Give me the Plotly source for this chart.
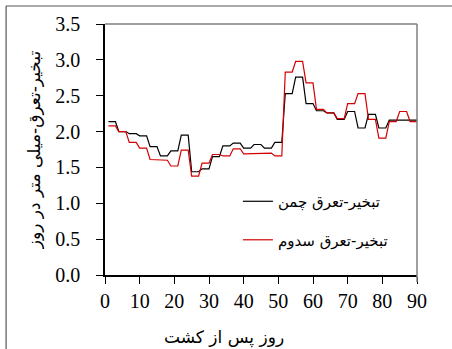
import plotly.graph_objects as go

days = list(range(1, 91))

# Evapotranspiration - grass (black)
et_grass = [
    2.14, 2.14, 2.14, 2.00, 2.00, 2.00, 1.97, 1.97, 1.97, 1.94, 1.94, 1.94,
    1.79, 1.79, 1.79, 1.66, 1.66, 1.66, 1.73, 1.73, 1.73, 1.95, 1.95, 1.95,
    1.44, 1.44, 1.44, 1.48, 1.48, 1.48, 1.65, 1.65, 1.65, 1.80, 1.80, 1.80,
    1.84, 1.84, 1.84, 1.77, 1.77, 1.77, 1.82, 1.82, 1.82, 1.77, 1.77, 1.77,
    1.85, 1.85, 1.85, 2.53, 2.53, 2.53, 2.76, 2.76, 2.76, 2.39, 2.39, 2.39,
    2.29, 2.29, 2.29, 2.26, 2.26, 2.26, 2.17, 2.17, 2.17, 2.28, 2.28, 2.28,
    2.05, 2.05, 2.05, 2.24, 2.24, 2.24, 2.05, 2.05, 2.05, 2.16, 2.16, 2.16,
    2.16, 2.16, 2.16, 2.16, 2.16, 2.16,
]

# Evapotranspiration - sedum (red)
et_sedum = [
    2.08, 2.08, 2.08, 2.00, 2.00, 2.00, 1.85, 1.85, 1.85, 1.77, 1.77, 1.77,
    1.61, 1.61, 1.61, 1.60, 1.60, 1.60, 1.52, 1.52, 1.52, 1.74, 1.74, 1.74,
    1.38, 1.38, 1.38, 1.56, 1.56, 1.56, 1.68, 1.68, 1.68, 1.66, 1.66, 1.66,
    1.76, 1.76, 1.76, 1.69, 1.69, 1.69, 1.70, 1.70, 1.70, 1.70, 1.70, 1.70,
    1.66, 1.66, 1.66, 2.83, 2.83, 2.83, 2.98, 2.98, 2.98, 2.68, 2.68, 2.68,
    2.31, 2.31, 2.31, 2.26, 2.26, 2.26, 2.18, 2.18, 2.18, 2.39, 2.39, 2.39,
    2.53, 2.53, 2.53, 2.17, 2.17, 2.17, 1.91, 1.91, 1.91, 2.14, 2.14, 2.14,
    2.28, 2.28, 2.28, 2.14, 2.14, 2.14,
]

x_ticks = [0, 10, 20, 30, 40, 50, 60, 70, 80, 90]
y_ticks = [0.0, 0.5, 1.0, 1.5, 2.0, 2.5, 3.0, 3.5]

name_grass = "تبخیر-تعرق چمن"
name_sedum = "تبخیر-تعرق سدوم"
x_title = "روز پس از کشت"
y_title = "تبخیر-تعرق-میلی متر در روز"

num_font = "Liberation Serif"
fa_font = "DejaVu Sans"

fig = go.Figure()
fig.add_trace(go.Scatter(x=days, y=et_grass, mode="lines", name=name_grass,
                         legendgroup="a",
                         line=dict(color="#000000", width=1.2)))
fig.add_trace(go.Scatter(x=days, y=et_sedum, mode="lines", name=name_sedum,
                         legendgroup="b",
                         line=dict(color="#d40000", width=1.2)))

fig.update_layout(
    width=452, height=349,
    margin=dict(l=105, r=35, t=24, b=74),
    paper_bgcolor="white", plot_bgcolor="white",
    showlegend=True,
    legend=dict(x=0.426, y=0.217, xanchor="left", yanchor="middle",
                bgcolor="rgba(0,0,0,0)", tracegroupgap=16,
                traceorder="grouped",
                font=dict(family=fa_font, size=15, color="#000")),
    xaxis=dict(range=[0, 90], tickvals=x_ticks, ticktext=[str(v) for v in x_ticks],
               ticks="outside", ticklen=7, tickwidth=1, tickcolor="#000",
               showline=True, linecolor="#000", linewidth=1.5,
               showgrid=False, zeroline=False,
               tickfont=dict(family=num_font, size=20, color="#000"),
               ticklabelstandoff=0),
    yaxis=dict(range=[0, 3.5], tickvals=y_ticks, ticktext=[f"{v:.1f}" for v in y_ticks],
               ticks="outside", ticklen=7, tickwidth=1, tickcolor="#000",
               showline=True, linecolor="#000", linewidth=1.5,
               showgrid=False, zeroline=False,
               tickfont=dict(family=num_font, size=20, color="#000"),
               ticklabelstandoff=12,
               title=dict(text=y_title, standoff=10,
                          font=dict(family=fa_font, size=17, color="#000"))),
)

# x-axis title (placed as in the reference, left of center)
fig.add_annotation(text=x_title, xref="paper", yref="paper", x=0.381, y=-0.25,
                   xanchor="center", yanchor="middle", showarrow=False,
                   font=dict(family=fa_font, size=17, color="#000"))

# plot box (top/right in gray)
fig.add_shape(type="line", xref="paper", yref="paper", x0=0, x1=1, y0=1, y1=1,
              line=dict(color="#7f7f7f", width=1.5))
fig.add_shape(type="line", xref="paper", yref="paper", x0=1, x1=1, y0=-0.028, y1=1,
              line=dict(color="#7f7f7f", width=1.5))

# outer frame (top and left edges)
fig.add_shape(type="line", xref="paper", yref="paper", x0=-0.317, x1=1.2, y0=1.0717, y1=1.0717,
              line=dict(color="#555555", width=1.2))
fig.add_shape(type="line", xref="paper", yref="paper", x0=-0.317, x1=-0.317, y0=-0.4, y1=1.0717,
              line=dict(color="#555555", width=1.2))

fig.write_html("out.html")
